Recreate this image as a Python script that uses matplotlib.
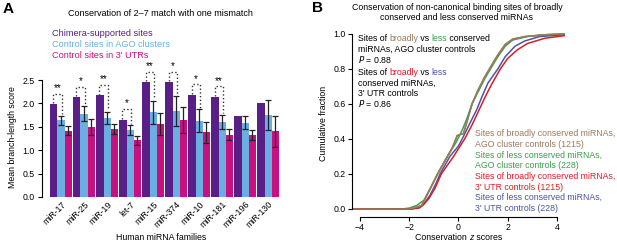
import matplotlib
matplotlib.use("Agg")
from matplotlib import pyplot as plt
import numpy as np

plt.rcParams['font.family'] = ['Liberation Sans', 'DejaVu Sans']
plt.rcParams['font.size'] = 6.3

# ---- Panel A data ----
families = ['miR-17', 'miR-25', 'miR-19', 'let-7', 'miR-15',
            'miR-374', 'miR-10', 'miR-181', 'miR-196', 'miR-130']
chimera = [1.98, 2.13, 2.17, 1.65, 2.45, 2.45, 2.18, 2.14, 1.74, 2.00]
ago_ctrl = [1.64, 1.78, 1.69, 1.43, 1.81, 1.84, 1.63, 1.61, 1.59, 1.75]
ago_err = [0.10, 0.16, 0.13, 0.11, 0.25, 0.32, 0.24, 0.15, 0.14, 0.32]
utr_ctrl = [1.42, 1.50, 1.46, 1.21, 1.56, 1.65, 1.38, 1.33, 1.33, 1.40]
utr_err = [0.09, 0.17, 0.11, 0.09, 0.24, 0.28, 0.22, 0.12, 0.11, 0.33]
stars = ['**', '*', '**', '*', '**', '*', '*', '**', '', '']

# ---- Panel B data (z score, cumulative fraction) ----
brown_z = [-4.3, -2.0, -1.7, -1.5, -1.35, -1.1, -0.85, -0.45, -0.25, -0.05, 0.2, 0.35,
           0.55, 0.8, 1.05, 1.3, 1.6, 1.9, 2.2, 2.7, 3.5, 4.3]
brown_f = [0, 0, 0.01, 0.02, 0.06, 0.13, 0.20, 0.30, 0.35, 0.42, 0.43, 0.50,
           0.60, 0.68, 0.75, 0.81, 0.88, 0.94, 0.97, 0.985, 0.995, 1.0]
green_z = [-4.3, -2.3, -2.0, -1.7, -1.4, -1.1, -0.85, -0.45, -0.1, 0.15, 0.35,
           0.55, 0.8, 1.05, 1.3, 1.6, 1.9, 2.2, 2.8, 3.5, 4.3]
green_f = [0, 0, 0.005, 0.02, 0.05, 0.13, 0.20, 0.30, 0.38, 0.45, 0.52,
           0.60, 0.67, 0.74, 0.80, 0.87, 0.93, 0.965, 0.985, 0.995, 1.0]
red_z = [-4.3, -1.9, -1.6, -1.45, -1.2, -0.95, -0.7, -0.2, 0.25, 0.55, 0.85,
         1.05, 1.3, 1.7, 2.0, 2.4, 2.8, 3.5, 4.3]
red_f = [0, 0, 0.005, 0.02, 0.06, 0.12, 0.20, 0.30, 0.40, 0.48, 0.57,
         0.63, 0.70, 0.80, 0.86, 0.91, 0.945, 0.975, 0.99]
blue_z = [-4.3, -1.9, -1.6, -1.4, -1.15, -0.9, -0.75, -0.35, 0.0, 0.15, 0.5,
          0.75, 0.95, 1.2, 1.6, 1.9, 2.3, 2.7, 3.3, 4.3]
blue_f = [0, 0, 0.01, 0.03, 0.08, 0.15, 0.20, 0.30, 0.36, 0.40, 0.50,
          0.57, 0.64, 0.72, 0.80, 0.87, 0.93, 0.96, 0.985, 0.995]

purple = '#5a1f86'
lblue = '#6aaee2'
magenta = '#c8117f'
c_brown = '#9c7a5c'
c_green = '#3c9f4c'
c_red = '#d61f26'
c_blue = '#4b55a8'

FS = 6.3

fig = plt.figure(figsize=(6.17, 2.42), dpi=100)

# ================= Panel A =================
ax = fig.add_axes([0.068, 0.186, 0.386, 0.493])
x = np.arange(len(families))
w = 0.31
ax.bar(x - w, chimera, width=w, color=purple)
ax.bar(x, ago_ctrl, width=w, color=lblue, yerr=ago_err, capsize=2,
       error_kw=dict(ecolor='#222222', elinewidth=0.9, capthick=0.9))
ax.bar(x + w, utr_ctrl, width=w, color=magenta, yerr=utr_err, capsize=2,
       error_kw=dict(ecolor='#222222', elinewidth=0.9, capthick=0.9))

for i, s in enumerate(stars):
    if not s:
        continue
    y0 = chimera[i] + 0.02
    y1 = ago_ctrl[i] + ago_err[i] + 0.03
    yt = chimera[i] + 0.23
    xl, xr = i - w - 0.02, i + 0.02
    ax.plot([xl, xl, xr, xr], [y0, yt, yt, y1], ls=':', color='#333333',
            lw=1.0, clip_on=False)
    ax.text((xl + xr) / 2, yt + 0.01, s, ha='center', va='bottom',
            fontsize=7, clip_on=False)

ax.set_xlim(-0.83, 9.52)
ax.set_ylim(0, 2.55)
ax.set_yticks([0, 0.5, 1.0, 1.5, 2.0, 2.5])
ax.set_yticklabels(['0.0', '0.5', '1.0', '1.5', '2.0', '2.5'])
ax.spines['top'].set_visible(False)
ax.spines['right'].set_visible(False)
ax.spines['bottom'].set_visible(False)
ax.spines['left'].set_bounds(0, 2.5)
ax.tick_params(axis='y', length=3, width=0.8, pad=2)
ax.tick_params(axis='x', length=0, pad=2)
ax.set_xticks(x)
ax.set_xticklabels(families, rotation=45, ha='right', rotation_mode='anchor')
ax.set_ylabel('Mean branch-length score', labelpad=4)
ax.set_xlabel('Human miRNA families', labelpad=2)

leg_a = [('Chimera-supported sites', purple),
         ('Control sites in AGO clusters', lblue),
         ("Control sites in 3' UTRs", magenta)]
for k, (t, c) in enumerate(leg_a):
    fig.text(52 / 617, 1 - (33 + 11 * k) / 242, t, color=c, fontsize=6.6,
             va='center', ha='left')

fig.text(160 / 617, 1 - 13 / 242, 'Conservation of 2\u20137 match with one mismatch',
         ha='center', va='center', fontsize=6.5)
fig.text(3 / 617, 1 - 9 / 242, 'A', fontsize=11, fontweight='bold',
         ha='left', va='center')

# ================= Panel B =================
bx = fig.add_axes([0.5705, 0.1033, 0.348, 0.771])
bx.plot(brown_z, brown_f, color=c_brown, lw=1.1)
bx.plot(green_z, green_f, color=c_green, lw=1.1)
bx.plot(blue_z, blue_f, color=c_blue, lw=1.1)
bx.plot(red_z, red_f, color=c_red, lw=1.1)
bx.plot(brown_z, brown_f, color=c_brown, lw=1.1)

bx.set_xlim(-4.33, 4.4)
bx.set_ylim(-0.046, 1.02)
bx.set_xticks([-4, -2, 0, 2, 4])
bx.set_xticklabels(['\u22124', '\u22122', '0', '2', '4'])
bx.set_yticks([0, 0.2, 0.4, 0.6, 0.8, 1.0])
bx.set_yticklabels(['0.0', '0.2', '0.4', '0.6', '0.8', '1.0'])
bx.spines['top'].set_visible(False)
bx.spines['right'].set_visible(False)
bx.spines['left'].set_bounds(0, 1)
bx.spines['bottom'].set_bounds(-4, 4)
bx.tick_params(length=3, width=0.8, pad=1.5)
bx.set_ylabel('Cumulative fraction', labelpad=4)

# x label with an italic z, placed as chained text pieces
xl1 = fig.text(415 / 617, 1 - 240 / 242, 'Conservation ', ha='left',
               va='baseline', fontsize=FS)
xl2 = ax.annotate('z', xy=(1, 0), xycoords=xl1, ha='left', va='bottom',
                  fontsize=FS, fontstyle='italic')
ax.annotate(' scores', xy=(1, 0), xycoords=xl2, ha='left', va='bottom',
            fontsize=FS)


def colored_line(x0, y0, parts):
    t = bx.text(x0, y0, parts[0][0], color=parts[0][1], transform=bx.transAxes,
                ha='left', va='bottom', fontsize=FS)
    for s, c in parts[1:]:
        t = bx.annotate(s, xy=(1, 0), xycoords=t, color=c, ha='left',
                        va='bottom', fontsize=FS)


ax_l = (358 - 352) / (566.7 - 352)


def ypos(py):
    # pixel row (line centre) -> axes fraction of the text box bottom
    return (217 - py - 5) / (217 - 30.5)


colored_line(ax_l, ypos(38), [('Sites of ', 'k'), ('broadly', c_brown), (' vs ', 'k'),
                              ('less', c_green), (' conserved', 'k')])
colored_line(ax_l, ypos(49), [('miRNAs, AGO cluster controls', 'k')])
colored_line(ax_l, ypos(60), [('$\\it{P}$ = 0.88', 'k')])
colored_line(ax_l, ypos(72), [('Sites of ', 'k'), ('broadly', c_red), (' vs ', 'k'),
                              ('less', c_blue)])
colored_line(ax_l, ypos(83), [('conserved miRNAs,', 'k')])
colored_line(ax_l, ypos(93), [("3' UTR controls", 'k')])
colored_line(ax_l, ypos(104), [('$\\it{P}$ = 0.86', 'k')])

leg_b = [('Sites of broadly conserved miRNAs,', c_brown),
         ('AGO cluster controls (1215)', c_brown),
         ('Sites of less conserved miRNAs,', c_green),
         ('AGO cluster controls (228)', c_green),
         ('Sites of broadly conserved miRNAs,', c_red),
         ("3' UTR controls (1215)", c_red),
         ('Sites of less conserved miRNAs,', c_blue),
         ("3' UTR controls (228)", c_blue)]
for k, (t, c) in enumerate(leg_b):
    fig.text(475 / 617, 1 - (134 + 10.6 * k) / 242, t, color=c, fontsize=FS,
             ha='left', va='center')

fig.text(457 / 617, 1 - 7 / 242,
         'Conservation of non-canonical binding sites of broadly',
         ha='center', va='center', fontsize=FS)
fig.text(457 / 617, 1 - 18 / 242, 'conserved and less conserved miRNAs',
         ha='center', va='center', fontsize=FS)
fig.text(312 / 617, 1 - 8 / 242, 'B', fontsize=11, fontweight='bold',
         ha='left', va='center')

fig.savefig('out.png', dpi=100)
